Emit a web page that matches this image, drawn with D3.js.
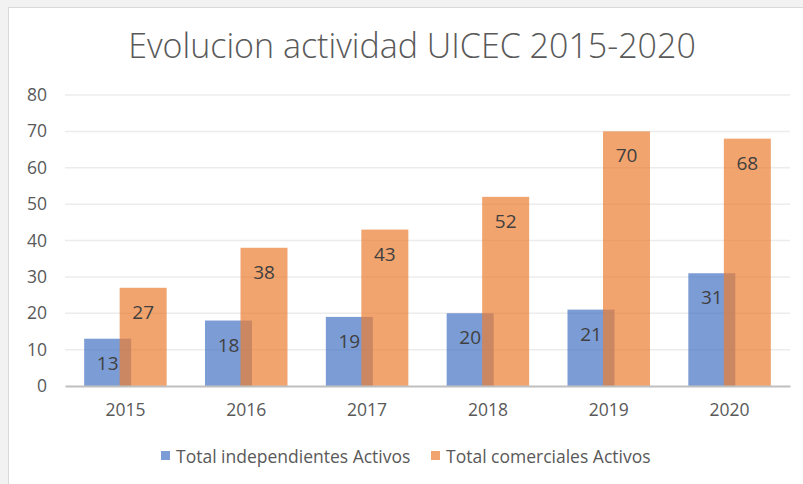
<!DOCTYPE html>
<html>
<head>
<meta charset="utf-8">
<script src="https://cdn.jsdelivr.net/npm/d3@7"></script>
<style>
  body { margin: 0; background: #f2f2f2; }
  .chart text { font-family: "Open Sans", sans-serif; }
</style>
</head>
<body>
<div class="chart"></div>
<script>
// datos del grafico
const years = ["2015", "2016", "2017", "2018", "2019", "2020"]
const independientes = [13, 18, 19, 20, 21, 31]
const comerciales = [27, 38, 43, 52, 70, 68]
const seriesNames = ["Total independientes Activos", "Total comerciales Activos"]
const yTicks = [0, 10, 20, 30, 40, 50, 60, 70, 80]

function drawChart() {
  const width = 803
  const height = 484
  const svg = d3.select('.chart')
    .append('svg')
    .attr('width', width)
    .attr('height', height)

  // fondo blanco del grafico
  svg.append('rect')
    .attr('x', 8.5).attr('y', 7.5)
    .attr('width', width).attr('height', height)
    .attr('fill', '#fff')
    .attr('stroke', '#d9d9d9')

  // titulo
  svg.append('text')
    .attr('x', 412).attr('y', 58)
    .attr('text-anchor', 'middle')
    .style('font-size', '34px')
    .style('font-weight', 300)
    .attr('fill', '#595959')
    .text('Evolucion actividad UICEC 2015-2020')

  const left = 65, right = 790, top = 95, bottom = 386

  const x = d3.scaleBand()
    .domain(years)
    .range([left, right])

  const y = d3.scaleLinear()
    .domain([0, 80])
    .range([bottom, top])

  // lineas de la grilla
  svg.append('g')
    .selectAll('line')
    .data(yTicks.slice(1))
    .enter()
    .append('line')
    .attr('x1', left).attr('x2', right)
    .attr('y1', d => y(d)).attr('y2', d => y(d))
    .attr('stroke', '#ececec')
    .attr('stroke-width', 1.5)

  // eje Y
  const yAxis = d3.axisLeft(y).tickValues(yTicks).tickSize(0).tickPadding(18)
  const gy = svg.append('g')
    .attr('transform', `translate(${left}, 0)`)
    .call(yAxis)
  gy.select('.domain').remove()
  gy.selectAll('text')
    .style('font-size', '17.5px')
    .attr('fill', '#595959')

  // barras
  const barW = 47
  const overlap = 11.5
  const groupW = barW * 2 - overlap
  const offset = (x.bandwidth() - groupW) / 2

  const bars = svg.append('g')
  bars.selectAll('.ind')
    .data(independientes)
    .enter()
    .append('rect')
    .attr('x', (d, i) => x(years[i]) + offset)
    .attr('y', d => y(d))
    .attr('width', barW)
    .attr('height', d => y(0) - y(d))
    .attr('fill', '#4472c4')
    .attr('fill-opacity', 0.7)

  bars.selectAll('.com')
    .data(comerciales)
    .enter()
    .append('rect')
    .attr('x', (d, i) => x(years[i]) + offset + barW - overlap)
    .attr('y', d => y(d))
    .attr('width', barW)
    .attr('height', d => y(0) - y(d))
    .attr('fill', '#ed7d31')
    .attr('fill-opacity', 0.7)

  // etiquetas de datos
  svg.append('g')
    .selectAll('text')
    .data(independientes)
    .enter()
    .append('text')
    .attr('x', (d, i) => x(years[i]) + offset + barW / 2)
    .attr('y', d => y(d) + 31)
    .attr('text-anchor', 'middle')
    .style('font-size', '19px')
    .attr('fill', '#404040')
    .text(d => d)

  svg.append('g')
    .selectAll('text')
    .data(comerciales)
    .enter()
    .append('text')
    .attr('x', (d, i) => x(years[i]) + offset + barW * 1.5 - overlap)
    .attr('y', d => y(d) + 31)
    .attr('text-anchor', 'middle')
    .style('font-size', '19px')
    .attr('fill', '#404040')
    .text(d => d)

  // eje X
  const xAxis = d3.axisBottom(x).tickSize(0).tickPadding(18)
  const gx = svg.append('g')
    .attr('transform', `translate(0, ${bottom})`)
    .call(xAxis)
  gx.select('.domain')
    .attr('stroke', '#bfbfbf')
    .attr('stroke-width', 2)
  gx.selectAll('text')
    .style('font-size', '17.5px')
    .attr('fill', '#595959')

  // leyenda
  const legendX = [161, 431]
  const colors = ['#4472c4', '#ed7d31']
  const legend = svg.append('g')
  seriesNames.forEach((name, i) => {
    legend.append('rect')
      .attr('x', legendX[i]).attr('y', 451)
      .attr('width', 9).attr('height', 9)
      .attr('fill', colors[i])
      .attr('fill-opacity', 0.7)
    legend.append('text')
      .attr('x', legendX[i] + 15).attr('y', 463)
      .style('font-size', '17.5px')
      .attr('fill', '#595959')
      .text(name)
  })
}

drawChart()
</script>
</body>
</html>
